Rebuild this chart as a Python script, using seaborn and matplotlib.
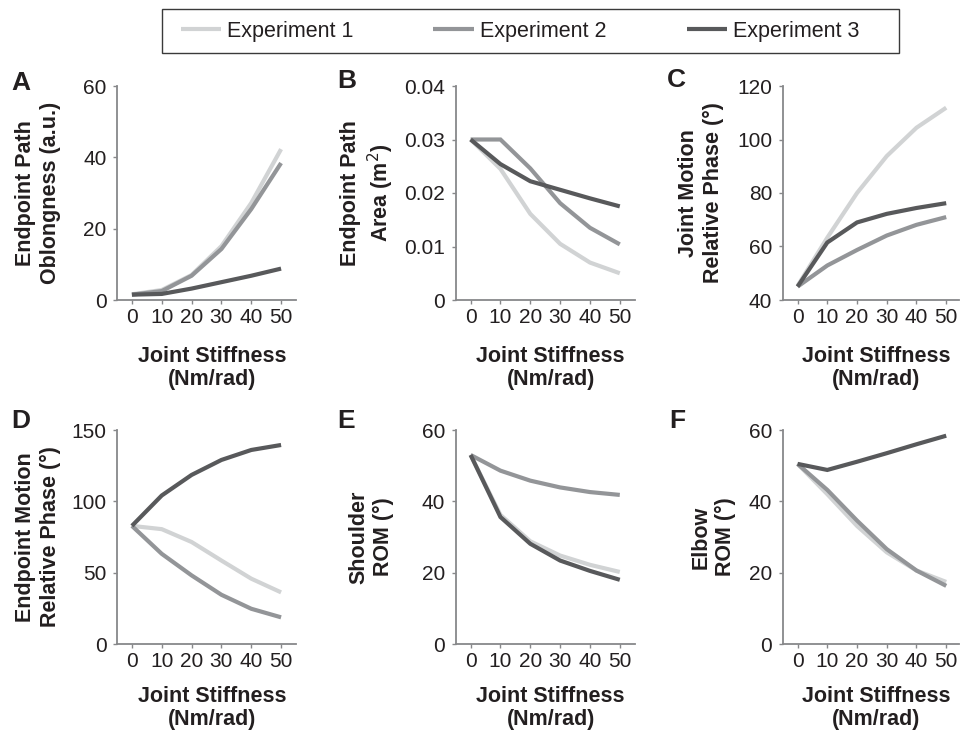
import matplotlib
matplotlib.use("Agg")
import matplotlib.pyplot as plt
from matplotlib.patches import Rectangle
import numpy as np
import pandas as pd
import seaborn as sns

# ---------------- data ----------------
stiffness = [0, 10, 20, 30, 40, 50]
experiments = ["Experiment 1", "Experiment 2", "Experiment 3"]
colors = ["#d1d3d4", "#939598", "#58595b"]

oblong_exp1 = [1.6, 2.8, 7.0, 15.1, 27.2, 42.3]
oblong_exp2 = [1.5, 2.5, 6.8, 14.3, 25.5, 38.4]
oblong_exp3 = [1.5, 1.7, 3.2, 5.0, 6.8, 8.8]

area_exp1 = [0.030, 0.0245, 0.0161, 0.0105, 0.0070, 0.0050]
area_exp2 = [0.030, 0.030, 0.0246, 0.0181, 0.0135, 0.0104]
area_exp3 = [0.030, 0.0254, 0.0222, 0.0206, 0.0190, 0.0175]

jphase_exp1 = [45.3, 63.3, 80.0, 93.8, 104.4, 111.9]
jphase_exp2 = [45.0, 52.9, 58.7, 64.1, 68.1, 71.0]
jphase_exp3 = [45.0, 61.5, 69.0, 72.2, 74.4, 76.2]

ephase_exp1 = [82.8, 80.5, 71.5, 58.5, 45.8, 36.2]
ephase_exp2 = [82.8, 63.2, 48.1, 34.5, 24.7, 18.7]
ephase_exp3 = [82.8, 104.1, 118.5, 129.0, 136.0, 139.5]

shoulder_exp1 = [53.0, 36.2, 28.8, 24.8, 22.2, 20.2]
shoulder_exp2 = [53.0, 48.6, 45.8, 43.9, 42.6, 41.8]
shoulder_exp3 = [53.0, 35.6, 28.1, 23.4, 20.5, 18.0]

elbow_exp1 = [50.5, 42.0, 33.1, 25.7, 20.6, 17.4]
elbow_exp2 = [50.5, 43.2, 34.6, 26.6, 20.6, 16.3]
elbow_exp3 = [50.5, 48.8, 51.1, 53.5, 56.0, 58.4]

panel_letters = ["A", "B", "C", "D", "E", "F"]
ylabels = [
    "Endpoint Path\nOblongness (a.u.)",
    "Endpoint Path\nArea (m$^2$)",
    "Joint Motion\nRelative Phase (°)",
    "Endpoint Motion\nRelative Phase (°)",
    "Shoulder\nROM (°)",
    "Elbow\nROM (°)",
]
xlabel = "Joint Stiffness\n(Nm/rad)"
xticks = [0, 10, 20, 30, 40, 50]
yticks_list = [
    [0, 20, 40, 60],
    [0, 0.01, 0.02, 0.03, 0.04],
    [40, 60, 80, 100, 120],
    [0, 50, 100, 150],
    [0, 20, 40, 60],
    [0, 20, 40, 60],
]
ytick_labels_list = [
    ["0", "20", "40", "60"],
    ["0", "0.01", "0.02", "0.03", "0.04"],
    ["40", "60", "80", "100", "120"],
    ["0", "50", "100", "150"],
    ["0", "20", "40", "60"],
    ["0", "20", "40", "60"],
]
series = [
    (oblong_exp1, oblong_exp2, oblong_exp3),
    (area_exp1, area_exp2, area_exp3),
    (jphase_exp1, jphase_exp2, jphase_exp3),
    (ephase_exp1, ephase_exp2, ephase_exp3),
    (shoulder_exp1, shoulder_exp2, shoulder_exp3),
    (elbow_exp1, elbow_exp2, elbow_exp3),
]

# ---------------- style ----------------
sns.set_theme(style="ticks")
plt.rcParams["font.family"] = ["Liberation Sans", "DejaVu Sans"]
text_color = "#231f20"
spine_color = "#87888a"

W, H = 960, 732
fig = plt.figure(figsize=(W / 100, H / 100), dpi=100)
fig.patch.set_facecolor("white")

# axes geometry in pixels (left, top, width, height)
ax_w, ax_h = 179, 214
lefts = [117, 455.7, 782.7]
tops = [86, 430]
ylabel_x = [-0.315, -0.335, -0.335, -0.315, -0.345, -0.265]
xlabel_y = [-0.215, -0.215, -0.215, -0.195, -0.195, -0.195]
letter_pos = [(11, 90), (337, 88.5), (667, 87), (11, 428.5), (337, 428.5), (669, 428.5)]

axes = []
for i in range(6):
    r, c = divmod(i, 3)
    l = lefts[c]
    t = tops[r]
    w = ax_w if c < 2 else 176
    ax = fig.add_axes([l / W, 1 - (t + ax_h) / H, w / W, ax_h / H])
    axes.append(ax)

    df = pd.DataFrame({
        "stiffness": stiffness * 3,
        "value": list(series[i][0]) + list(series[i][1]) + list(series[i][2]),
        "Experiment": [e for e in experiments for _ in stiffness],
    })
    sns.lineplot(data=df, x="stiffness", y="value", hue="Experiment",
                 hue_order=experiments, palette=colors, linewidth=3.0,
                 ax=ax, legend=False)
    for ln in ax.get_lines():
        ln.set_solid_capstyle("butt")
        ln.set_solid_joinstyle("miter")

    ax.set_xlim(-5, 55 if c < 2 else 54.2)
    yt = yticks_list[i]
    ax.set_ylim(yt[0], yt[-1])
    ax.set_xticks(xticks)
    ax.set_xticklabels([str(v) for v in xticks])
    ax.set_yticks(yt)
    ax.set_yticklabels(ytick_labels_list[i])
    ax.tick_params(axis="both", direction="out", length=3.0, width=1.0,
                   color=spine_color, labelsize=15, labelcolor=text_color)
    ax.tick_params(axis="x", pad=3.0)
    ax.tick_params(axis="y", pad=4.6)
    for s in ["top", "right"]:
        ax.spines[s].set_visible(False)
    for s in ["left", "bottom"]:
        ax.spines[s].set_color(spine_color)
        ax.spines[s].set_linewidth(1.3)

    ax.set_ylabel(ylabels[i], fontsize=15.5, fontweight="bold",
                  color=text_color, linespacing=1.2)
    ax.yaxis.set_label_coords(ylabel_x[i], 0.5)
    ax.set_xlabel(xlabel, fontsize=15.5, fontweight="bold",
                  color=text_color, linespacing=1.15)
    ax.xaxis.set_label_coords(0.53, xlabel_y[i])
    ax.xaxis.label.set_verticalalignment("top")

    lx, ly = letter_pos[i]
    fig.text(lx / W, 1 - ly / H, panel_letters[i], fontsize=19,
             fontweight="bold", color=text_color, ha="left", va="baseline")

# ---------------- legend ----------------
handles = axes[0].get_lines()[:3]
leg = fig.legend(handles, experiments, loc="center left",
                 bbox_to_anchor=(180.5 / W, 1 - 31.5 / H), ncol=3,
                 frameon=False, fontsize=15.5, handlelength=1.86,
                 handletextpad=0.32, columnspacing=3.7, borderpad=0,
                 borderaxespad=0)
for t in leg.get_texts():
    t.set_color(text_color)
for h in leg.legend_handles:
    h.set_linewidth(3.0)
fig.patches.append(Rectangle((161.7 / W, 1 - 53.3 / H), 737.6 / W, 44 / H,
                             transform=fig.transFigure, fill=False,
                             edgecolor="#3a3a3a", linewidth=1.0))

fig.savefig("out.png", dpi=100, facecolor="white")
